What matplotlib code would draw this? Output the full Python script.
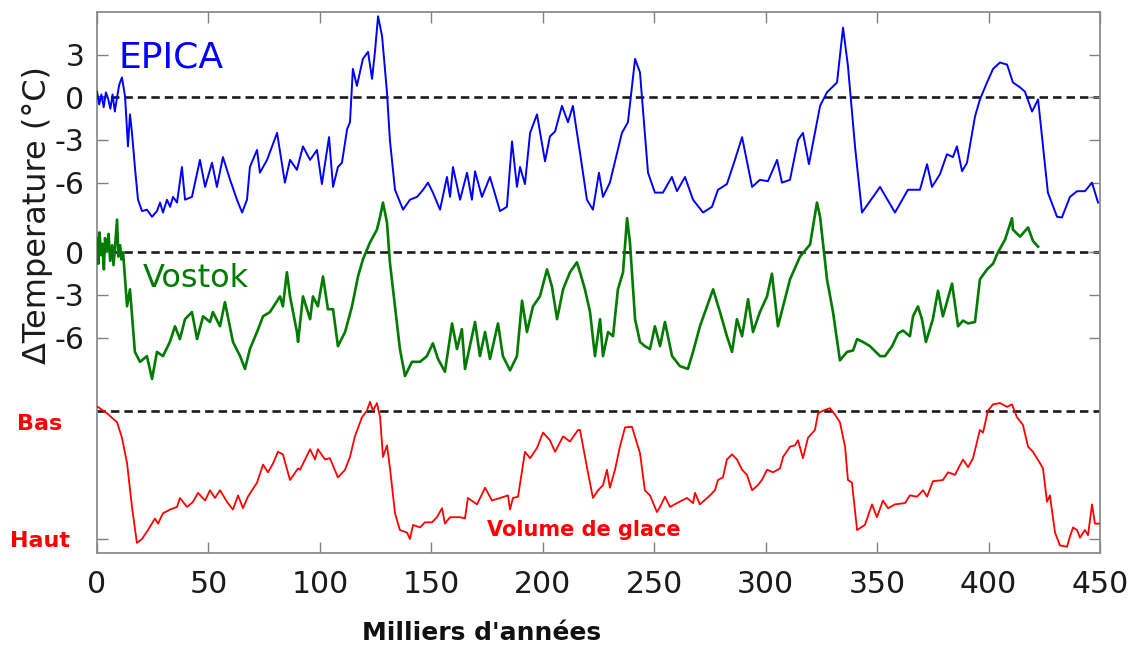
#!/usr/bin/env python

# Antarctic temperature (EPICA, Vostok) and ice volume over 450 kyr

import numpy
import matplotlib
matplotlib.use("Agg")
import matplotlib.pyplot as plt
import matplotlib.transforms as mtransforms

# EPICA: (age in kyr, temperature anomaly in degC)
epica = [
    (0, 0.4), (1, -0.5), (2, 0.2), (3, -0.7), (4, 0.35), (5, -0.1), (6, -0.8),
    (7, 0.2), (8, -1.0), (9, 0), (10, 0.9), (11.2, 1.4), (12.6, 0.05),
    (13.9, -3.45), (14.8, -1.2), (15.7, -2.5), (17, -4.9), (18.4, -7.2),
    (20.2, -8.0), (22.4, -7.9), (24.7, -8.4), (26.9, -8.0), (28.3, -7.4),
    (29.6, -8.1), (31.4, -7.2), (32.8, -7.7), (34.1, -7.0), (35.9, -7.4),
    (38.1, -4.9), (39.5, -7.2), (42.6, -7.0), (46.2, -4.4), (48.5, -6.3),
    (51.6, -4.6), (53.8, -6.3), (56.5, -4.2), (59.7, -5.8), (62.8, -7.2),
    (65.1, -8.1), (67.3, -7.2), (68.6, -4.9), (71.8, -3.7), (73.1, -5.3),
    (76.3, -4.4), (80.8, -2.5), (84.3, -6.0), (86.6, -4.4), (89.7, -5.1),
    (92.4, -3.45), (95.6, -4.4), (98.7, -3.7), (100.9, -6.1), (104.1, -2.8),
    (105.9, -6.3), (108.1, -4.9), (109.9, -4.6), (112.2, -2.25), (113.5, -1.75),
    (114.8, 2.0), (116.6, 0.8), (119.3, 2.7), (121.6, 3.2), (123.4, 1.3),
    (124.7, 3.2), (126.1, 5.7), (127.9, 4.3), (130.1, 0.35), (131.4, -3.0),
    (133.7, -6.5), (137.3, -7.9), (140.4, -7.2), (143.6, -7.0), (146.3, -6.5),
    (148.5, -6.0), (150.7, -6.7), (153.9, -7.9), (157, -5.6), (158.4, -7.0),
    (159.7, -4.9), (162.9, -7.2), (166, -5.3), (168.2, -7.2), (169.6, -5.2),
    (172.7, -7.0), (176.3, -5.6), (180.8, -8.0), (183.9, -7.7), (186.2, -3.1),
    (188.4, -6.3), (189.8, -4.9), (192, -6.1), (194.3, -2.5), (197.4, -1.2),
    (201, -4.5), (203.2, -2.75), (205.5, -2.4), (208.6, -0.6), (211.3, -1.75),
    (213.5, -0.6), (216.7, -3.9), (219.8, -7.2), (222.5, -7.9), (225.2, -5.3),
    (227, -7.0), (230.1, -6.0), (235.5, -2.5), (238.2, -1.75), (241.4, 2.7),
    (243.6, 1.75), (247.2, -5.3), (250.3, -6.7), (253.9, -6.7), (257.9, -5.6),
    (260.2, -6.6), (263.8, -5.6), (267.4, -7.2), (271.9, -8.1), (275.9, -7.7),
    (278.6, -6.5), (282.6, -6.1), (286.2, -4.4), (289.4, -2.8), (293.9, -6.3),
    (297.4, -5.8), (301, -5.9), (305.1, -4.4), (307.3, -6.0), (310.9, -5.8),
    (314.5, -3.0), (316.7, -2.5), (319.4, -4.7), (324.4, -0.6), (327.5, 0.35),
    (332, 1.05), (334.7, 4.9), (336.9, 2.2), (340.1, -3.5), (343.2, -8.1),
    (351.3, -6.3), (358, -8.1), (363.8, -6.5), (369.2, -6.5), (372.4, -4.7),
    (374.6, -6.3), (378.2, -5.4), (381.3, -4.0), (384, -4.2), (385.8, -3.45),
    (388.1, -5.2), (390.3, -4.6), (393.9, -1.35), (396.1, -0.15), (399.3, 1.05),
    (402, 2.0), (405.1, 2.45), (408.3, 2.3), (410.9, 1.05), (414.1, 0.7),
    (416.3, 0.4), (419.5, -1.0), (422.2, -0.15), (424.4, -3.45), (426.6, -6.7),
    (430.7, -8.4), (432.9, -8.45), (436.5, -7.0), (439.7, -6.6), (443.2, -6.6),
    (446.4, -6.0), (449.1, -7.4),
]

# Vostok: (age in kyr, temperature anomaly in degC)
vostok = [
    (0, 1.0), (0.6, -0.8), (1.1, 1.4), (1.9, -0.2), (2.4, 0.6), (3.1, -1.2),
    (3.6, 1.0), (4.5, 0.1), (5.2, 1.3), (5.9, -0.6), (6.8, 0.5), (7.4, -0.9),
    (8.2, 0.6), (9, 2.3), (9.6, -0.3), (10.4, 0.5), (11, -0.5), (11.7, 0),
    (13.5, -3.8), (14.8, -2.6), (17, -7.0), (19.3, -7.7), (22.4, -7.3),
    (24.7, -8.9), (26.9, -7.0), (29.6, -7.3), (32.7, -6.3), (35, -5.2),
    (37.2, -6.1), (39.5, -4.7), (42.6, -4.2), (44.9, -6.1), (47.6, -4.5),
    (50.7, -4.9), (52, -4.2), (55.2, -5.2), (57.4, -3.5), (61, -6.3),
    (64.2, -7.3), (66.4, -8.2), (68.6, -6.8), (71.8, -5.6), (74.5, -4.5),
    (77.6, -4.2), (82.1, -3.1), (83.4, -3.8), (85.2, -1.4), (86.6, -3.1),
    (89.7, -5.6), (90.2, -6.3), (92.4, -3.1), (95.6, -4.7), (96.9, -3.1),
    (99.1, -3.8), (101.4, -1.7), (103.6, -4.0), (105.9, -4.0), (108.1, -6.6),
    (111.3, -5.6), (114.4, -3.8), (117.1, -1.7), (119.3, -0.5), (122.5, 0.7),
    (125.6, 1.6), (127, 2.5), (128.3, 3.5), (130.1, 2.1), (131.4, -0.7),
    (133.7, -3.8), (135.9, -6.8), (138.2, -8.7), (141.3, -7.7), (144.9, -7.7),
    (148, -7.3), (150.7, -6.4), (153, -7.5), (156.1, -8.4), (159.3, -5.0),
    (161.5, -6.8), (163.7, -5.4), (165.1, -8.2), (169.6, -4.9), (171.8, -7.3),
    (174.1, -5.6), (176.3, -7.5), (179.9, -5.0), (182.1, -7.3), (185.3, -8.3),
    (188.4, -7.3), (190.7, -3.4), (192.9, -5.6), (195.6, -3.8), (198.7, -3.1),
    (201.9, -1.2), (204.1, -2.4), (206.4, -4.7), (209.1, -2.6), (212.2, -1.4),
    (215.3, -0.7), (216.7, -1.4), (218.9, -2.6), (221.2, -4.2), (223.4, -7.3),
    (225.7, -4.7), (227, -7.3), (229.3, -5.6), (231.5, -5.9), (233.7, -2.6),
    (236, -1.4), (237.8, 2.4), (239.1, 0.7), (241.4, -4.7), (243.6, -6.3),
    (245.8, -6.6), (248.1, -6.8), (250.3, -5.2), (252.6, -6.6), (254.8, -4.9),
    (258, -7.3), (261.5, -8.0), (265.1, -8.2), (267.4, -7.0), (270.5, -5.2),
    (273.7, -3.8), (276.4, -2.6), (279.5, -4.2), (282.6, -5.9), (284.9, -7.0),
    (287.1, -4.7), (289.4, -5.9), (292.1, -3.3), (294.3, -5.6), (297.4, -4.2),
    (300.6, -3.1), (302.8, -1.5), (305.5, -5.2), (310.9, -1.9), (315.4, -0.3),
    (319.9, 0.55), (323, 3.5), (324.4, 2.5), (327.5, -1.9), (330.2, -4.2),
    (333.3, -7.6), (336.5, -7.0), (339.2, -6.9), (341, -6.1), (343.6, -6.3),
    (346.8, -6.6), (351.3, -7.3), (353.5, -7.3), (356.7, -6.6), (359.4, -5.7),
    (361.6, -5.5), (364.7, -5.9), (366.1, -4.5), (368.3, -3.8), (370.1, -4.7),
    (371.9, -6.3), (375, -4.7), (377.3, -2.7), (379.5, -4.5), (383.6, -2.2),
    (386.3, -5.2), (388.5, -4.8), (390.8, -5.0), (393.9, -4.9), (396.1, -1.9),
    (399.3, -1.2), (402, -0.8), (404.2, 0), (407.4, 0.9), (410.5, 2.4),
    (410.9, 1.6), (414.1, 1.1), (417.7, 1.75), (419.9, 0.8), (422.2, 0.4),
]

# Ice volume: (age in kyr, relative volume, 0 = low / Bas, 1 = high / Haut)
ice = [
    (0.4, -0.03), (4.5, 0.02), (9, 0.09), (11.2, 0.21), (13.5, 0.41),
    (15.7, 0.75), (17.9, 1.03), (20.2, 1.0), (22.9, 0.93), (26, 0.84),
    (27.4, 0.88), (29.6, 0.8), (32.8, 0.77), (35.9, 0.75), (37.2, 0.68),
    (40.4, 0.75), (43.1, 0.71), (45.3, 0.64), (48.5, 0.70), (50.7, 0.62),
    (52.9, 0.68), (55.2, 0.62), (58.3, 0.71), (61, 0.77), (63.3, 0.66),
    (65.5, 0.76), (67.7, 0.67), (71.8, 0.56), (74.5, 0.42), (76.7, 0.48),
    (79, 0.41), (81.2, 0.32), (83.4, 0.34), (86.6, 0.54), (90.2, 0.45),
    (91.1, 0.46), (95.6, 0.30), (97.8, 0.38), (99.1, 0.30), (102.3, 0.38),
    (104.5, 0.37), (108.1, 0.52), (111.3, 0.46), (113.5, 0.36), (115.7, 0.20),
    (118.9, 0.05), (121.1, 0), (122.5, -0.07), (123.8, 0), (125.6, -0.06),
    (127, 0.05), (128.3, 0.36), (130.1, 0.27), (131.4, 0.44), (133.7, 0.80),
    (135.9, 0.93), (139.1, 0.95), (140.4, 1.0), (141.8, 0.89), (144.9, 0.91),
    (147.1, 0.87), (150.3, 0.87), (152.5, 0.83), (154.8, 0.76), (156.1, 0.88),
    (158.4, 0.83), (162.9, 0.83), (165.1, 0.84), (166.4, 0.68), (170.5, 0.73),
    (174.1, 0.60), (177.2, 0.70), (180.8, 0.68), (184.4, 0.66), (185.3, 0.77),
    (186.6, 0.68), (188.9, 0.67), (192, 0.32), (194.3, 0.37), (197.4, 0.29),
    (200.1, 0.17), (203.2, 0.23), (205.5, 0.32), (209.1, 0.20), (212.2, 0.24),
    (215.8, 0.15), (216.7, 0.15), (219.8, 0.44), (222.5, 0.68), (224.8, 0.62),
    (227, 0.58), (228.8, 0.46), (230.1, 0.60), (232.4, 0.46), (234.6, 0.28),
    (236.9, 0.13), (240, 0.125), (243.6, 0.33), (245.8, 0.62), (248.1, 0.66),
    (251.2, 0.79), (252.6, 0.75), (254.8, 0.67), (257.1, 0.75), (260.2, 0.72),
    (264.7, 0.68), (267.4, 0.72), (268.3, 0.64), (270.5, 0.73), (275, 0.66),
    (277.2, 0.62), (278.6, 0.54), (280.8, 0.52), (282.6, 0.38), (284.9, 0.34),
    (287.1, 0.38), (289.4, 0.46), (291.6, 0.50), (293.9, 0.62), (296.5, 0.58),
    (298.3, 0.54), (300.6, 0.46), (303.3, 0.48), (306.4, 0.45), (307.8, 0.36),
    (310.9, 0.28), (313.1, 0.27), (314.5, 0.23), (316.7, 0.37), (319, 0.21),
    (322.1, 0.15), (323.5, 0.02), (325.7, 0), (328.8, -0.02), (331.1, 0.03),
    (333.3, 0.09), (335.6, 0.28), (336.9, 0.54), (338.7, 0.56), (341, 0.93),
    (344.5, 0.89), (347.7, 0.73), (349.9, 0.83), (352.6, 0.70), (354.9, 0.76),
    (358, 0.73), (362.5, 0.72), (364.7, 0.66), (367.9, 0.67), (370.6, 0.62),
    (372.4, 0.67), (375, 0.55), (379.5, 0.54), (381.8, 0.48), (384.9, 0.50),
    (388.5, 0.38), (390.8, 0.44), (393, 0.37), (396.1, 0.15), (397.5, 0.17),
    (399.7, 0), (402, -0.05), (405.1, -0.06), (408.3, -0.03), (410.5, -0.05),
    (412.7, 0.05), (415.4, 0.11), (417.7, 0.28), (419.9, 0.32), (423.1, 0.41),
    (424.4, 0.45), (426.2, 0.71), (427.5, 0.66), (429.8, 0.95), (432, 1.05),
    (435.2, 1.06), (436.5, 0.98), (437.9, 0.91), (439.7, 0.93), (441, 0.99),
    (443.2, 0.93), (444.6, 0.97), (446.4, 0.73), (447.7, 0.88), (449.5, 0.88),
]

temp_ticks = [3, 0, -3, -6]
vostok_ticks = [0, -3, -6]
x_ticks = numpy.arange(0, 451, 50)

# Vertical stacking of the three curves (in EPICA degC units)
vostok_shift = -10.9
ice_top = -22.04     # "Bas"
ice_bottom = -31.06  # "Haut"

plt.rcParams["font.family"] = ["DejaVu Sans"]

fig = plt.figure(figsize=(11.37, 6.49), dpi=100, facecolor="white")
ax = fig.add_axes([0.0853, 0.148, 0.8822, 0.8335])

e = numpy.array(epica)
v = numpy.array(vostok)
g = numpy.array(ice)

# Zero lines
for y0 in (0, vostok_shift, ice_top):
    ax.axhline(y0, color="#1a1a1a", linestyle=(0, (3.2, 1.9)), linewidth=1.9, zorder=1)

ax.plot(e[:, 0], e[:, 1], color="#0000ff", linewidth=1.4, zorder=3)
ax.plot(v[:, 0], v[:, 1] + vostok_shift, color="#007a00", linewidth=1.9, zorder=3)
ax.plot(g[:, 0], ice_top + g[:, 1] * (ice_bottom - ice_top), color="#ff0000",
        linewidth=1.3, zorder=3)

ax.set_xlim(0, 450)
ax.set_ylim(-32.04, 6.0)

# Ticks: inward on all four sides
yt = list(temp_ticks) + [t + vostok_shift for t in vostok_ticks] + [ice_bottom]
ylab = [str(t) for t in temp_ticks] + [str(t) for t in vostok_ticks] + [""]
ax.set_yticks(yt)
ax.set_yticklabels(ylab)
ax.set_xticks(x_ticks)
ax.set_xticklabels([str(t) for t in x_ticks])
ax.tick_params(direction="in", length=8, width=1, color="#808080",
               top=True, right=True, labelsize=21.5, labelcolor="#1a1a1a")
ax.tick_params(axis="y", pad=9)
ax.tick_params(axis="x", pad=12)
for s in ax.spines.values():
    s.set_color("#8c8c8c")
    s.set_linewidth(1.3)

ax.set_ylabel("\u0394Temperature (\u00b0C)", fontsize=23, color="#1a1a1a")
ax.yaxis.set_label_coords(-0.044, 0.625)
ax.set_xlabel("Milliers d'ann\u00e9es", fontsize=18, fontweight="bold",
              color="#111111")
ax.xaxis.set_label_coords(0.383, -0.126)

# Series labels
ax.text(0.021, 0.915, "EPICA", transform=ax.transAxes, color="#0000ff",
        fontsize=26, va="center", ha="left")
ax.text(0.046, 0.507, "Vostok", transform=ax.transAxes, color="#007a00",
        fontsize=23, va="center", ha="left")
ax.text(0.389, 0.042, "Volume de glace", transform=ax.transAxes, color="#ff0000",
        fontsize=15, fontweight="bold", va="center", ha="left")

# Ice volume axis words
trans = mtransforms.blended_transform_factory(fig.transFigure, ax.transData)
ax.text(0.035, -23.0, "Bas", transform=trans, color="#ff0000", fontsize=16,
        fontweight="bold", ha="center", va="center", clip_on=False)
ax.text(0.035, -31.2, "Haut", transform=trans, color="#ff0000", fontsize=16,
        fontweight="bold", ha="center", va="center", clip_on=False)

fig.savefig("out.png", dpi=100, facecolor="white")
